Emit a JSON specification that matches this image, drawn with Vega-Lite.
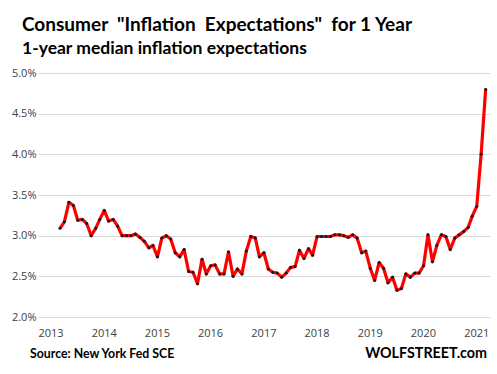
{
  "$schema": "https://vega.github.io/schema/vega-lite/v6.json",
  "width": 452,
  "height": 244,
  "autosize": {"type": "none"},
  "padding": {"left": 38, "top": 73, "right": 7, "bottom": 57},
  "background": "white",
  "config": {
    "view": {"stroke": null},
    "font": "Open Sans"
  },
  "title": {
    "text": "Consumer\u00a0 \"Inflation\u00a0 Expectations\"\u00a0 for 1 Year",
    "subtitle": "1-year median inflation expectations",
    "anchor": "start",
    "frame": "group",
    "dx": -16,
    "offset": 10,
    "font": "Lato",
    "fontSize": 19,
    "fontWeight": "bold",
    "color": "#000000",
    "subtitleFont": "Lato",
    "subtitleFontSize": 17.5,
    "subtitleFontWeight": "bold",
    "subtitleColor": "#000000",
    "subtitlePadding": 5
  },
  "data": {
    "values": [
      {"date": "2013-06-01", "value": 3.09},
      {"date": "2013-07-01", "value": 3.17},
      {"date": "2013-08-01", "value": 3.41},
      {"date": "2013-09-01", "value": 3.37},
      {"date": "2013-10-01", "value": 3.19},
      {"date": "2013-11-01", "value": 3.20},
      {"date": "2013-12-01", "value": 3.15},
      {"date": "2014-01-01", "value": 3.00},
      {"date": "2014-02-01", "value": 3.09},
      {"date": "2014-03-01", "value": 3.20},
      {"date": "2014-04-01", "value": 3.31},
      {"date": "2014-05-01", "value": 3.18},
      {"date": "2014-06-01", "value": 3.20},
      {"date": "2014-07-01", "value": 3.12},
      {"date": "2014-08-01", "value": 3.00},
      {"date": "2014-09-01", "value": 3.00},
      {"date": "2014-10-01", "value": 3.00},
      {"date": "2014-11-01", "value": 3.02},
      {"date": "2014-12-01", "value": 2.98},
      {"date": "2015-01-01", "value": 2.93},
      {"date": "2015-02-01", "value": 2.85},
      {"date": "2015-03-01", "value": 2.88},
      {"date": "2015-04-01", "value": 2.74},
      {"date": "2015-05-01", "value": 2.97},
      {"date": "2015-06-01", "value": 3.00},
      {"date": "2015-07-01", "value": 2.96},
      {"date": "2015-08-01", "value": 2.79},
      {"date": "2015-09-01", "value": 2.74},
      {"date": "2015-10-01", "value": 2.83},
      {"date": "2015-11-01", "value": 2.56},
      {"date": "2015-12-01", "value": 2.55},
      {"date": "2016-01-01", "value": 2.41},
      {"date": "2016-02-01", "value": 2.71},
      {"date": "2016-03-01", "value": 2.53},
      {"date": "2016-04-01", "value": 2.63},
      {"date": "2016-05-01", "value": 2.64},
      {"date": "2016-06-01", "value": 2.53},
      {"date": "2016-07-01", "value": 2.53},
      {"date": "2016-08-01", "value": 2.80},
      {"date": "2016-09-01", "value": 2.50},
      {"date": "2016-10-01", "value": 2.59},
      {"date": "2016-11-01", "value": 2.53},
      {"date": "2016-12-01", "value": 2.81},
      {"date": "2017-01-01", "value": 2.99},
      {"date": "2017-02-01", "value": 2.97},
      {"date": "2017-03-01", "value": 2.74},
      {"date": "2017-04-01", "value": 2.79},
      {"date": "2017-05-01", "value": 2.59},
      {"date": "2017-06-01", "value": 2.55},
      {"date": "2017-07-01", "value": 2.54},
      {"date": "2017-08-01", "value": 2.49},
      {"date": "2017-09-01", "value": 2.54},
      {"date": "2017-10-01", "value": 2.61},
      {"date": "2017-11-01", "value": 2.62},
      {"date": "2017-12-01", "value": 2.82},
      {"date": "2018-01-01", "value": 2.72},
      {"date": "2018-02-01", "value": 2.84},
      {"date": "2018-03-01", "value": 2.76},
      {"date": "2018-04-01", "value": 2.99},
      {"date": "2018-05-01", "value": 2.99},
      {"date": "2018-06-01", "value": 2.99},
      {"date": "2018-07-01", "value": 2.99},
      {"date": "2018-08-01", "value": 3.01},
      {"date": "2018-09-01", "value": 3.01},
      {"date": "2018-10-01", "value": 3.00},
      {"date": "2018-11-01", "value": 2.98},
      {"date": "2018-12-01", "value": 3.01},
      {"date": "2019-01-01", "value": 2.97},
      {"date": "2019-02-01", "value": 2.79},
      {"date": "2019-03-01", "value": 2.81},
      {"date": "2019-04-01", "value": 2.60},
      {"date": "2019-05-01", "value": 2.45},
      {"date": "2019-06-01", "value": 2.67},
      {"date": "2019-07-01", "value": 2.60},
      {"date": "2019-08-01", "value": 2.42},
      {"date": "2019-09-01", "value": 2.49},
      {"date": "2019-10-01", "value": 2.33},
      {"date": "2019-11-01", "value": 2.35},
      {"date": "2019-12-01", "value": 2.53},
      {"date": "2020-01-01", "value": 2.49},
      {"date": "2020-02-01", "value": 2.54},
      {"date": "2020-03-01", "value": 2.54},
      {"date": "2020-04-01", "value": 2.63},
      {"date": "2020-05-01", "value": 3.01},
      {"date": "2020-06-01", "value": 2.68},
      {"date": "2020-07-01", "value": 2.88},
      {"date": "2020-08-01", "value": 3.01},
      {"date": "2020-09-01", "value": 2.99},
      {"date": "2020-10-01", "value": 2.83},
      {"date": "2020-11-01", "value": 2.97},
      {"date": "2020-12-01", "value": 3.01},
      {"date": "2021-01-01", "value": 3.05},
      {"date": "2021-02-01", "value": 3.10},
      {"date": "2021-03-01", "value": 3.24},
      {"date": "2021-04-01", "value": 3.36},
      {"date": "2021-05-01", "value": 4.00},
      {"date": "2021-06-01", "value": 4.80}
    ]
  },
  "encoding": {
    "x": {
      "field": "date",
      "type": "temporal",
      "title": null,
      "scale": {
        "type": "utc",
        "domain": [
          {"year": 2013, "month": 1, "date": 1, "utc": true},
          {"year": 2021, "month": 7, "date": 1, "utc": true}
        ]
      },
      "axis": {
        "values": [
          {"year": 2013, "month": 1, "date": 1, "utc": true},
          {"year": 2014, "month": 1, "date": 1, "utc": true},
          {"year": 2015, "month": 1, "date": 1, "utc": true},
          {"year": 2016, "month": 1, "date": 1, "utc": true},
          {"year": 2017, "month": 1, "date": 1, "utc": true},
          {"year": 2018, "month": 1, "date": 1, "utc": true},
          {"year": 2019, "month": 1, "date": 1, "utc": true},
          {"year": 2020, "month": 1, "date": 1, "utc": true},
          {"year": 2021, "month": 1, "date": 1, "utc": true}
        ],
        "format": "%Y",
        "formatType": "utc",
        "labelAlign": "left",
        "labelFontSize": 11,
        "labelColor": "#404040",
        "labelPadding": 10,
        "labelFlush": false,
        "labelOverlap": false,
        "ticks": false,
        "domain": false,
        "grid": false
      }
    },
    "y": {
      "field": "value",
      "type": "quantitative",
      "title": null,
      "scale": {"domain": [2, 5], "nice": false, "zero": false},
      "axis": {
        "values": [2, 2.5, 3, 3.5, 4, 4.5, 5],
        "labelExpr": "format(datum.value, '.1f') + '%'",
        "labelFontSize": 11,
        "labelColor": "#404040",
        "labelPadding": 2,
        "ticks": false,
        "domain": false,
        "grid": true,
        "gridColor": "#d9d9d9",
        "gridWidth": 1
      }
    }
  },
  "layer": [
    {
      "mark": {"type": "line", "color": "#ff0000", "strokeWidth": 3.2, "strokeJoin": "round"}
    },
    {
      "mark": {"type": "point", "filled": true, "color": "#1a1a1a", "size": 9, "opacity": 1}
    },
    {
      "transform": [{"filter": "datum.value == 4.8"}],
      "mark": {"type": "text", "text": "Source: New York Fed SCE", "align": "left", "baseline": "alphabetic", "dx": -8, "font": "Lato", "fontSize": 12.3, "fontWeight": "bold", "color": "#000000"},
      "encoding": {
        "x": {"datum": {"year": 2013, "month": 1, "date": 1, "utc": true}, "type": "temporal"},
        "y": {"datum": 1.5, "type": "quantitative"}
      }
    },
    {
      "transform": [{"filter": "datum.value == 4.8"}],
      "mark": {"type": "text", "text": "WOLFSTREET.com", "align": "right", "baseline": "alphabetic", "dx": -3, "font": "Lato", "fontSize": 14.3, "fontWeight": "bold", "color": "#000000"},
      "encoding": {
        "x": {"datum": {"year": 2021, "month": 7, "date": 1, "utc": true}, "type": "temporal"},
        "y": {"datum": 1.5, "type": "quantitative"}
      }
    }
  ]
}
